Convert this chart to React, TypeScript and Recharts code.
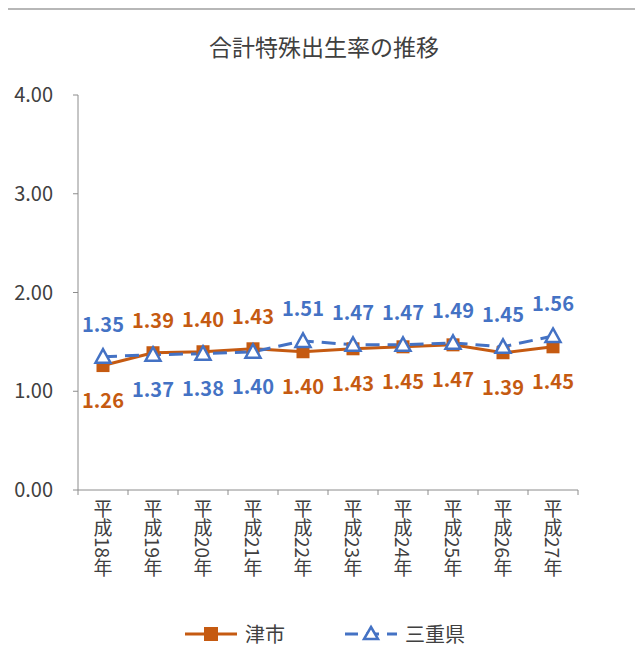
import React from 'react';
import { LineChart, Line, XAxis, YAxis, LabelList } from 'recharts';

// 合計特殊出生率 (平成18年〜平成27年)
const years = ['平成18年', '平成19年', '平成20年', '平成21年', '平成22年', '平成23年', '平成24年', '平成25年', '平成26年', '平成27年'];
const tsuValues = [1.26, 1.39, 1.40, 1.43, 1.40, 1.43, 1.45, 1.47, 1.39, 1.45];
const mieValues = [1.35, 1.37, 1.38, 1.40, 1.51, 1.47, 1.47, 1.49, 1.45, 1.56];
const yTicks = [0, 1, 2, 3, 4];

const TSU_NAME = '津市';
const MIE_NAME = '三重県';
const ORANGE = '#C55A11';
const BLUE = '#4472C4';
const TEXT = '#404040';
const AXIS = '#8c8c8c';
const FONT = '"Noto Sans CJK JP", "Noto Sans", sans-serif';

const CHART_W = 634;
const CHART_H = 670;
const STEP = 50; // category width on the x axis

const data = years.map((year, i) => ({ year, tsu: tsuValues[i], mie: mieValues[i] }));

const SquareDot = (props: any) => {
  const { cx, cy, index } = props;
  if (cx == null || cy == null) return null;
  return <rect key={`sq-${index}`} x={cx - 6.5} y={cy - 6.5} width={13} height={13} fill={ORANGE} />;
};

const TriangleDot = (props: any) => {
  const { cx, cy, index } = props;
  if (cx == null || cy == null) return null;
  return (
    <path
      key={`tri-${index}`}
      d={`M${cx},${cy - 7.5} L${cx + 7.5},${cy + 6} L${cx - 7.5},${cy + 6} Z`}
      fill="#fff"
      stroke={BLUE}
      strokeWidth={2.5}
    />
  );
};

// value label sits above the point when the series is the higher one, below otherwise
const makeLabel = (own: number[], other: number[], color: string) => (props: any) => {
  const { x, y, index } = props;
  const above = own[index] > other[index];
  return (
    <text
      x={x}
      y={above ? y - 33 : y + 34}
      textAnchor="middle"
      dominantBaseline="central"
      fill={color}
      fontSize={20}
      fontWeight="bold"
      fontFamily={FONT}
    >
      {own[index].toFixed(2)}
    </text>
  );
};

const YearTick = (props: any) => {
  const { x, y, payload, index } = props;
  return (
    <g>
      <line x1={x - STEP / 2} y1={y} x2={x - STEP / 2} y2={y + 5} stroke={AXIS} />
      {index === years.length - 1 && <line x1={x + STEP / 2} y1={y} x2={x + STEP / 2} y2={y + 5} stroke={AXIS} />}
      <text
        x={x}
        y={y + 9}
        fill={TEXT}
        fontSize={19}
        fontFamily={FONT}
        style={{ writingMode: 'vertical-rl' }}
      >
        {payload.value}
      </text>
    </g>
  );
};

const LegendItem = ({ name, color, dashed, marker }: { name: string; color: string; dashed?: boolean; marker: 'square' | 'triangle' }) => (
  <div style={{ display: 'flex', alignItems: 'center', gap: 6 }}>
    <svg width={56} height={20}>
      <line x1={2} y1={10} x2={54} y2={10} stroke={color} strokeWidth={3} strokeDasharray={dashed ? '13 8' : undefined} />
      {marker === 'square' ? (
        <rect x={21} y={3} width={14} height={14} fill={color} />
      ) : (
        <path d="M28,3 L35,15 L21,15 Z" fill="#fff" stroke={color} strokeWidth={2.5} />
      )}
    </svg>
    <span style={{ fontSize: 20, color: TEXT, fontFamily: FONT }}>{name}</span>
  </div>
);

export default function App() {
  return (
    <div style={{ position: 'relative', marginLeft: -2, width: CHART_W + 2, height: CHART_H, fontFamily: FONT }}>
      {/* chart frame */}
      <svg
        width={CHART_W + 2}
        height={CHART_H}
        style={{ position: 'absolute', left: 0, top: 0, pointerEvents: 'none' }}
      >
        <rect x={1} y={1} width={CHART_W} height={CHART_H + 10} fill="none" stroke="#a0a0a0" strokeWidth={1.5} />
      </svg>
      <div
        style={{
          position: 'absolute',
          top: 21,
          left: 1,
          width: CHART_W,
          textAlign: 'center',
          fontSize: 23,
          color: TEXT,
        }}
      >
        合計特殊出生率の推移
      </div>
      <div style={{ position: 'absolute', left: 1, top: 1 }}>
        <LineChart width={CHART_W} height={CHART_H} data={data} margin={{ top: 86, right: 63, bottom: 89, left: 0 }}>
          <YAxis
            type="number"
            domain={[0, 4]}
            ticks={yTicks}
            tickFormatter={(v: number) => v.toFixed(2)}
            width={71}
            axisLine={{ stroke: AXIS }}
            tickLine={{ stroke: AXIS }}
            tickSize={5}
            tickMargin={20}
            tick={{ fill: TEXT, fontSize: 20, fontFamily: FONT }}
            interval={0}
          />
          <XAxis
            dataKey="year"
            padding={{ left: STEP / 2, right: STEP / 2 }}
            height={100}
            axisLine={{ stroke: AXIS }}
            tickLine={false}
            tickSize={0}
            tickMargin={0}
            tick={<YearTick />}
            interval={0}
          />
          <Line
            dataKey="tsu"
            name={TSU_NAME}
            stroke={ORANGE}
            strokeWidth={3}
            dot={<SquareDot />}
            isAnimationActive={false}
          >
            <LabelList dataKey="tsu" content={makeLabel(tsuValues, mieValues, ORANGE)} />
          </Line>
          <Line
            dataKey="mie"
            name={MIE_NAME}
            stroke={BLUE}
            strokeWidth={3}
            strokeDasharray="14 8"
            dot={<TriangleDot />}
            isAnimationActive={false}
          >
            <LabelList dataKey="mie" content={makeLabel(mieValues, tsuValues, BLUE)} />
          </Line>
        </LineChart>
      </div>
      <div
        style={{
          position: 'absolute',
          top: 611,
          left: 1,
          width: CHART_W,
          display: 'flex',
          justifyContent: 'center',
          gap: 58,
        }}
      >
        <LegendItem name={TSU_NAME} color={ORANGE} marker="square" />
        <LegendItem name={MIE_NAME} color={BLUE} dashed marker="triangle" />
      </div>
    </div>
  );
}
